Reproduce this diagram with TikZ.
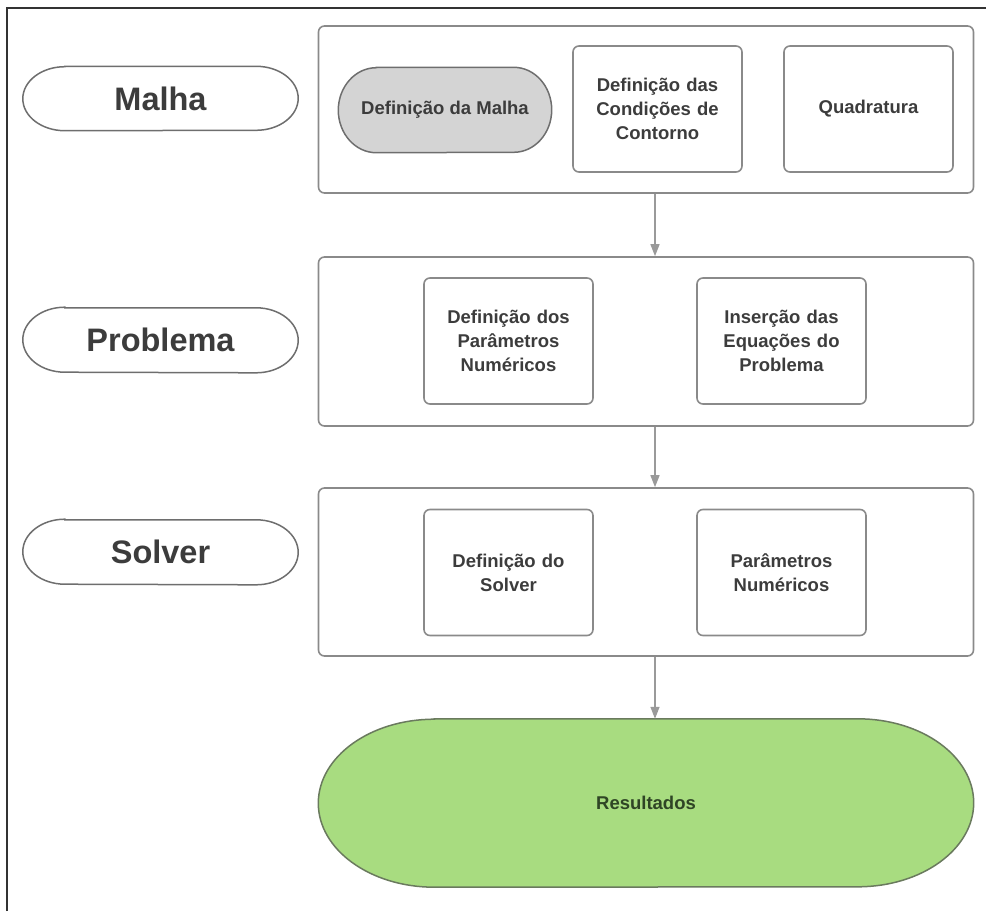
\documentclass[tikz,border=0pt]{standalone}
\usepackage{fontspec}
\setmainfont{Liberation Sans}
\usetikzlibrary{calc,backgrounds,arrows.meta}

\definecolor{edgegray}{HTML}{8A8A8A}
\definecolor{ovalgray}{HTML}{6E6E6E}
\definecolor{txtgray}{HTML}{3C3C3C}
\definecolor{meshfill}{HTML}{D4D4D4}
\definecolor{resgreen}{HTML}{A8DC80}
\definecolor{resedge}{HTML}{6A7A5E}
\definecolor{restext}{HTML}{2F4525}
\definecolor{arrowgray}{HTML}{9A9A9A}

\tikzset{
  stage/.style={draw=edgegray, line width=1.6pt, rounded corners=6pt,
    minimum width=655pt, inner sep=0pt},
  taskbox/.style={draw=edgegray, line width=1.6pt, rounded corners=6pt,
    minimum width=169pt, minimum height=126pt, text width=160pt, align=center,
    font=\bfseries\fontsize{18.5}{24}\selectfont, text=txtgray, inner sep=0pt},
  plain/.style={inner sep=0pt, align=center, text=txtgray,
    font=\bfseries\fontsize{18.5}{24}\selectfont},
  sidelabel/.style={inner sep=0pt, minimum width=275pt, minimum height=64pt,
    text=txtgray, font=\bfseries\fontsize{32.5}{38}\selectfont},
  flow/.style={draw=arrowgray, line width=1.4pt,
    -{Triangle[length=12pt,width=9pt]}},
}

% outline with half-ellipse ends around a named node
\newcommand{\ovalframe}[4]{%
  \path[#1] ($(#2.north west)+(#3,0)$) -- ($(#2.north east)-(#3,0)$)
    arc[start angle=90,end angle=-90,x radius=#3,y radius=#4]
    -- ($(#2.south west)+(#3,0)$)
    arc[start angle=270,end angle=90,x radius=#3,y radius=#4] -- cycle;}

\begin{document}
\begin{tikzpicture}[x=1pt,y=-1pt]
\useasboundingbox (0,0) rectangle (986,911);

% page frame
\draw[line width=1.5pt, black!80] (7,911) -- (7,8) -- (986,8);

% stage labels
\node[sidelabel] (lmalha) at (160.5,98.5) {Malha};
\node[sidelabel] (lprob) at (160.5,340) {Problema};
\node[sidelabel] (lsolver) at (160.5,552) {Solver};

% stage containers
\node[stage, minimum height=167pt] (malha) at (646,109.5) {};
\node[stage, minimum height=169pt] (prob) at (646,341.5) {};
\node[stage, minimum height=168pt] (solver) at (646,572) {};

% mesh stage
\node[plain, minimum width=213pt, minimum height=85pt] (defmalha) at (445,110) {Definição da Malha};
\node[taskbox] (contorno) at (657.5,109) {Definição das\\Condições de\\Contorno};
\node[taskbox] (quad) at (868.5,109) {Quadratura};

% problem stage
\node[taskbox] (param) at (508.5,341) {Definição dos\\Parâmetros\\Numéricos};
\node[taskbox] (equac) at (781.5,341) {Inserção das\\Equações do\\Problema};

% solver stage
\node[taskbox] (defsolver) at (508.5,572.5) {Definição do\\Solver};
\node[taskbox] (numpar) at (781.5,572.5) {Parâmetros\\Numéricos};

% results
\node[plain, text=restext, minimum width=655pt, minimum height=168pt] (result) at (646,803) {Resultados};

\begin{scope}[on background layer]
  \ovalframe{draw=ovalgray, line width=1.5pt, fill=white}{lmalha}{42pt}{32pt}
  \ovalframe{draw=ovalgray, line width=1.5pt, fill=white}{lprob}{42pt}{32.5pt}
  \ovalframe{draw=ovalgray, line width=1.5pt, fill=white}{lsolver}{42pt}{32.5pt}
  \ovalframe{draw=ovalgray, line width=1.5pt, fill=meshfill}{defmalha}{38pt}{42.5pt}
  \ovalframe{draw=resedge, line width=1.5pt, fill=resgreen}{result}{116pt}{84pt}
\end{scope}

% flow between stages
\draw[flow] ($(malha.south)+(9,0)$) -- ($(prob.north)+(9,0)$);
\draw[flow] ($(prob.south)+(9,0)$) -- ($(solver.north)+(9,0)$);
\draw[flow] ($(solver.south)+(9,0)$) -- ($(result.north)+(9,0)$);
\end{tikzpicture}
\end{document}
